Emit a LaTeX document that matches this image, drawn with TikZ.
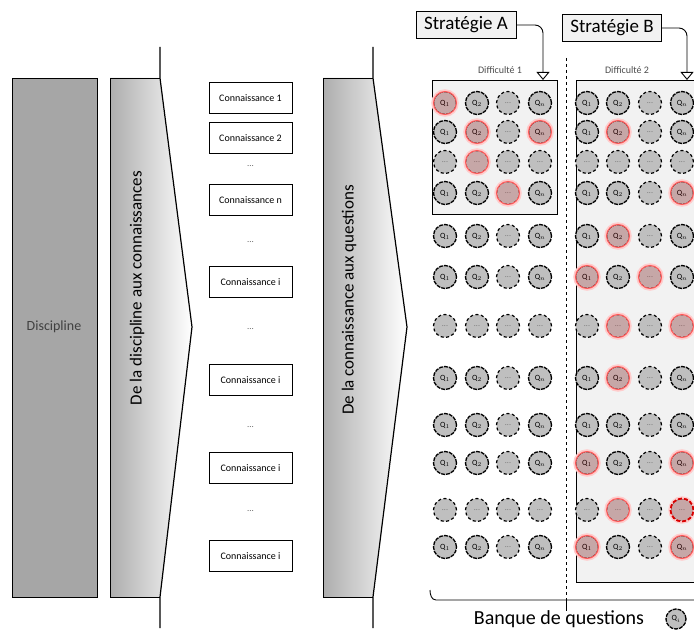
\documentclass[tikz,border=0pt]{standalone}
\usepackage{fontspec}
\setmainfont{Carlito}
\usepackage{tikz}
\usetikzlibrary{arrows.meta}
\tikzset{
    qnode/.style={circle,draw=black,fill=gray!50,line width=1.3pt,dash pattern=on 4pt off 1pt,minimum size=23pt,inner sep=0pt,font=\fontsize{8}{8}\selectfont},
    dotnode/.style={qnode,line width=1.2pt,dash pattern=on 3pt off 2.5pt},
    halo/.style={draw=red!20,line width=2.5pt},
    hl/.style={draw=red!65,fill=red,fill opacity=0.12,line width=1pt},
    connbox/.style={draw,line width=0.9pt,minimum width=83pt,minimum height=31pt,inner sep=0pt,font=\fontsize{10}{10}\selectfont},
    smalldots/.style={text=black!60,font=\fontsize{9}{9}\selectfont},
    stratbox/.style={draw,fill=black!5,line width=0.9pt,inner xsep=8pt,minimum height=27pt,font=\fontsize{19}{19}\selectfont},
    pointer/.style={line width=0.9pt,rounded corners=8pt,-{Triangle[open,width=13pt,length=8pt]}},
}
\newcommand{\dotstext}{\textcolor{black!55}{...}}

\begin{document}
\begin{tikzpicture}[x=1pt,y=-1pt]
    \clip (0,0) rectangle (694,631);
    % discipline
        \draw[line width=0.9pt,fill=black!35](12,78) rectangle (97,597);
        \node[text=black!75,font=\fontsize{14}{14}\selectfont] (discipline) at (54,327) {Discipline};
    % first arrow
        \shade[left color=black!32,right color=white](110,78)--(160,78)--(192,327)--(160,597)--(110,597)--cycle;
        \draw[line width=0.9pt](160,78)--(110,78)--(110,597)--(160,597);
        \draw[line width=1.2pt](160,47)--(160,78)--(192,327)--(160,597)--(160,628);
        \node[rotate=90,font=\fontsize{17}{17}\selectfont] (passage1) at (137,288) {De la discipline aux connaissances};
    % connaissances
        \node[connbox] (conn1) at (250.5,98) {Connaissance 1};
        \node[connbox] (conn2) at (250.5,138) {Connaissance 2};
        \node[smalldots] (dots1) at (250.5,166) {...};
        \node[connbox] (connn) at (250.5,200) {Connaissance n};
        \node[smalldots] (dots2) at (250.5,242) {...};
        \node[connbox] (conni1) at (250.5,282) {Connaissance i};
        \node[smalldots] (dots3) at (250.5,329) {...};
        \node[connbox] (conni2) at (250.5,380) {Connaissance i};
        \node[smalldots] (dots4) at (250.5,427) {...};
        \node[connbox] (conni3) at (250.5,468) {Connaissance i};
        \node[smalldots] (dots5) at (250.5,511) {...};
        \node[connbox] (conni4) at (250.5,556) {Connaissance i};
    % second arrow
        \shade[left color=black!32,right color=white](323,78)--(373,78)--(407,327)--(373,597)--(323,597)--cycle;
        \draw[line width=0.9pt](373,78)--(323,78)--(323,597)--(373,597);
        \draw[line width=1.2pt](373,47)--(373,78)--(407,327)--(373,597)--(373,628);
        \node[rotate=90,font=\fontsize{17}{17}\selectfont] (passage2) at (349,300) {De la connaissance aux questions};
    % difficulty boxes
        \draw[line width=0.9pt,fill=black!5](432,80) rectangle (557,214);
        \draw[line width=0.9pt,fill=black!5](576,80) rectangle (720,582);
        \node[text=black!70,font=\fontsize{10}{10}\selectfont] (diff1) at (500,70) {Difficulté 1};
        \node[text=black!70,font=\fontsize{10}{10}\selectfont] (diff2) at (627,70) {Difficulté 2};
    % separator and bank brace
        \coordinate (sepTop) at (566,58);
        \coordinate (sepBot) at (566,600);
        \draw[line width=1pt,dashed] (sepTop) -- (sepBot);
        \draw[line width=0.9pt] (430,590) to[out=-90,in=180] (436,600) -- (700,600);
        \draw[line width=0.9pt] (sepBot) -- ++(0,11);
    % strategies
        \node[stratbox] (stratA) at (466,25) {Stratégie A};
        \node[stratbox] (stratB) at (612,28) {Stratégie B};
        \coordinate (tipA) at (543,80);
        \coordinate (tipB) at (687,80);
        \draw[pointer] (stratA.east) -| (tipA);
        \draw[pointer] (stratB.east) -| (tipB);
    % questions
        \foreach \y [count=\r] in {103,132,162,193,236,277,326,378,425,463,510,547}{
            \foreach \xa/\xb/\lab [count=\c] in {445/587/1,477/618/2,508/650/x,540/682/n}{
                \pgfmathtruncatemacro{\isdot}{(\c==3)||(\r==3)||(\r==7)||(\r==11)}
                \ifnum\isdot=1
                    \node[dotnode] (a-\r-\c) at (\xa,\y) {\dotstext};
                    \node[dotnode] (b-\r-\c) at (\xb,\y) {\dotstext};
                \else
                    \node[qnode] (a-\r-\c) at (\xa,\y) {Q$_{\lab}$};
                    \node[qnode] (b-\r-\c) at (\xb,\y) {Q$_{\lab}$};
                \fi
            }
        }
    % chosen questions
        \foreach \n in {a-1-1,a-2-2,a-2-4,a-3-2,a-4-3,b-2-2,b-4-4,b-5-2,b-6-1,b-6-3,b-7-2,b-7-4,b-8-2,b-10-1,b-10-4,b-11-2,b-12-1,b-12-4}{
            \draw[halo] (\n.center) circle (12.5pt);
            \draw[hl] (\n.center) circle (11.5pt);
        }
        \draw[halo] (b-11-4.center) circle (12.5pt);
        \draw[draw=red!85!black,fill=red,fill opacity=0.12,line width=1.8pt,dash pattern=on 4pt off 2pt] (b-11-4.center) circle (11.5pt);
    % legend
        \node[font=\fontsize{20}{20}\selectfont] (banque) at (559,619) {Banque de questions};
        \node[qnode,minimum size=20pt] (qi) at (676,619) {Q$_i$};
\end{tikzpicture}
\end{document}
